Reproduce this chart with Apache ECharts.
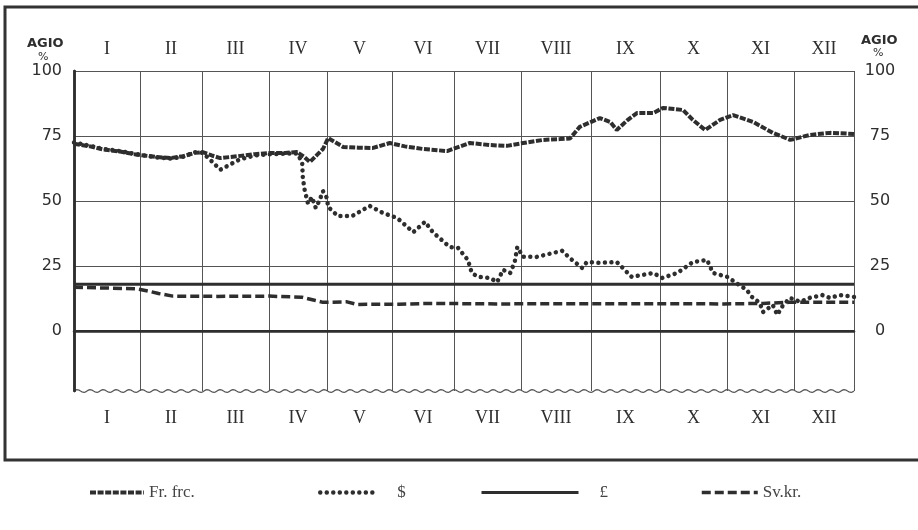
<!DOCTYPE html>
<html><head><meta charset="utf-8">
<script src="https://cdn.jsdelivr.net/npm/echarts@6/dist/echarts.min.js"></script>
<style>html,body{margin:0;padding:0;background:#fff}#c{width:918px;height:530px}</style>
</head><body><div id="c"></div>
<script>
// ---- data ----
const months = ['I','II','III','IV','V','VI','VII','VIII','IX','X','XI','XII'];
// month boundaries as drawn (in month units, 0..12)
const monthEdges = [0, 1.015, 1.969, 3.0, 3.892, 4.892, 5.846, 6.877, 7.954, 9.015, 10.046, 11.077, 12];
const yTicks = [0, 25, 50, 75, 100];
const seriesNames = ['Fr. frc.', '$', '£', 'Sv.kr.'];

const franc = [[0,72],[0.25,71],[0.45,69.8],[0.71,69],[0.97,67.8],[1.25,67],[1.48,66.5],[1.68,67.2],[1.86,68.5],[1.98,68.8],[2.12,67.5],[2.25,66.5],[2.51,67.2],[2.78,68],[3.02,68.5],[3.25,68.5],[3.43,68.8],[3.54,67],[3.63,65],[3.75,68],[3.83,70],[3.91,74.2],[4.14,70.8],[4.37,70.5],[4.6,70.4],[4.86,72.3],[5.09,71],[5.37,70],[5.74,69.2],[6.09,72.3],[6.4,71.5],[6.66,71.2],[6.91,72.3],[7.22,73.5],[7.48,73.8],[7.63,74],[7.78,78.5],[8.09,81.9],[8.25,80.4],[8.35,77.3],[8.51,81],[8.66,83.8],[8.91,83.8],[9.06,85.8],[9.37,85],[9.52,81.2],[9.71,77.3],[9.94,81.2],[10.14,83],[10.45,80.4],[10.75,76.2],[11.02,73.5],[11.32,75.4],[11.63,76.2],[12,75.8]];

const dollar = [[0,72.5],[0.25,71.2],[0.45,70],[0.71,69.2],[0.97,68],[1.25,66.8],[1.48,66.3],[1.68,67],[1.86,68.8],[1.98,68.5],[2.09,66],[2.17,64],[2.25,62],[2.4,64],[2.55,66],[2.78,67.5],[3.02,68],[3.25,68.2],[3.43,68.3],[3.51,65],[3.52,59],[3.55,54],[3.6,49],[3.66,51.5],[3.72,47.3],[3.78,50.4],[3.83,53.8],[3.89,51.2],[3.91,47.7],[4.06,44.2],[4.28,44.2],[4.55,48.1],[4.75,45.4],[4.97,43.5],[5.22,38],[5.4,42],[5.52,38],[5.78,32.3],[5.91,31.9],[6.06,27.3],[6.12,22.3],[6.22,20.8],[6.4,20.4],[6.51,18.8],[6.6,23.5],[6.71,22.3],[6.78,26.5],[6.82,32.3],[6.91,28.5],[7.12,28.5],[7.37,30],[7.51,30.8],[7.63,28],[7.82,24.2],[7.89,26.5],[8.09,26.2],[8.35,26.5],[8.58,20.8],[8.91,22.3],[9.05,20.4],[9.28,22.3],[9.52,26.5],[9.74,27.3],[9.83,22.3],[10.05,20.8],[10.17,18.8],[10.35,15.8],[10.43,13.1],[10.55,10.8],[10.6,7.3],[10.75,10],[10.82,6.2],[10.91,10],[11.02,12.7],[11.17,11.2],[11.32,12.7],[11.51,13.8],[11.63,12.7],[11.78,13.8],[12,13.1]];

const pound = [[0,18],[12,18]];

const krona = [[0,16.8],[0.5,16.5],[0.97,16.2],[1.15,15.3],[1.3,14.4],[1.52,13.4],[2.2,13.3],[3.0,13.4],[3.5,13.0],[3.7,11.8],[3.83,11.0],[4.2,11.2],[4.35,10.2],[5.0,10.3],[5.5,10.6],[6.5,10.4],[8,10.5],[9,10.5],[10,10.4],[10.6,10.6],[11,11],[12,11]];

// ---- chart ----
const centers = months.map((m, i) => (monthEdges[i] + monthEdges[i + 1]) / 2);
const monthLabel = v => { const i = centers.findIndex(c => Math.abs(c - v) < 1e-6); return i >= 0 ? months[i] : ''; };
const ink = '#2e2e2e';
const serif = '"Liberation Serif", "DejaVu Serif", serif';
const sans = '"DejaVu Sans", sans-serif';

const chart = echarts.init(document.getElementById('c'), null, { renderer: 'canvas' });
const grid = { left: 74, right: 64, top: 71, bottom: 139 };

const xBase = {
  type: 'value', min: 0, max: 12, gridIndex: 0,
  axisTick: { show: false, customValues: monthEdges },
  axisLabel: { customValues: centers, formatter: monthLabel, color: ink, fontFamily: serif, fontSize: 18 }
};
const yBase = {
  type: 'value', min: -23.1, max: 100,
  axisTick: { show: false, customValues: yTicks },
  axisLabel: { customValues: yTicks, color: ink, fontFamily: sans, fontSize: 16 },
  axisLine: { show: true, lineStyle: { color: ink, width: 2.5 } }
};

const styles = {
  franc: { color: ink, width: 4, type: [6, 1.6] },
  dollar: { color: ink, width: 4.5, type: [0.01, 6.5], cap: 'round' },
  pound: { color: ink, width: 3 },
  krona: { color: ink, width: 3.5, type: [9, 4] }
};

const legendBase = { orient: 'horizontal', top: 484, padding: 0, itemHeight: 10, selectedMode: false,
  itemStyle: { opacity: 0 } };
const legendText = pad => ({ fontFamily: serif, fontSize: 17, color: '#444', padding: [0, 0, 0, pad] });

chart.setOption({
  animation: false,
  backgroundColor: '#fff',
  grid: grid,
  xAxis: [
    Object.assign({}, xBase, {
      position: 'bottom',
      axisLine: { show: false },
      splitLine: { show: true, lineStyle: { color: '#555', width: 1 } },
      axisLabel: Object.assign({}, xBase.axisLabel, { margin: 18 })
    }),
    Object.assign({}, xBase, {
      position: 'top',
      axisLine: { show: true, lineStyle: { color: ink, width: 2.5 } },
      splitLine: { show: false },
      axisLabel: Object.assign({}, xBase.axisLabel, { margin: 13 })
    })
  ],
  yAxis: [
    Object.assign({}, yBase, {
      position: 'left',
      splitLine: { show: true, lineStyle: { color: '#555', width: 1 } },
      axisLabel: Object.assign({}, yBase.axisLabel, { margin: 12 })
    }),
    Object.assign({}, yBase, {
      position: 'right',
      splitLine: { show: false },
      axisLabel: Object.assign({}, yBase.axisLabel, { margin: 26, align: 'center' })
    })
  ],
  legend: [
    Object.assign({}, legendBase, { left: 88, itemWidth: 54, lineStyle: { width: 4 }, textStyle: legendText(0), data: [seriesNames[0]] }),
    Object.assign({}, legendBase, { left: 318, itemWidth: 58, lineStyle: { width: 4.5 }, textStyle: legendText(14), data: [seriesNames[1]] }),
    Object.assign({}, legendBase, { left: 480, itemWidth: 97, lineStyle: { width: 3 }, textStyle: legendText(16), data: [seriesNames[2]] }),
    Object.assign({}, legendBase, { left: 700, itemWidth: 56, lineStyle: { width: 3.5 }, textStyle: legendText(0), data: [seriesNames[3]] })
  ],
  series: [
    { name: seriesNames[2], type: 'line', data: pound, symbol: 'none', z: 3,
      lineStyle: styles.pound, itemStyle: { color: ink },
      markLine: { silent: true, symbol: 'none', label: { show: false },
        lineStyle: { color: ink, width: 2, type: 'solid' }, data: [{ yAxis: 0 }] } },
    { name: seriesNames[3], type: 'line', data: krona, symbol: 'none', z: 3,
      lineStyle: styles.krona, itemStyle: { color: ink } },
    { name: seriesNames[0], type: 'line', data: franc, symbol: 'none', z: 4,
      lineStyle: styles.franc, itemStyle: { color: ink } },
    { name: seriesNames[1], type: 'line', data: dollar, symbol: 'none', z: 5,
      lineStyle: styles.dollar, itemStyle: { color: ink } }
  ]
});

// decorative frame, wavy bottom edge and AGIO headings
const x0 = chart.convertToPixel({ xAxisIndex: 0 }, 0);
const x1 = chart.convertToPixel({ xAxisIndex: 0 }, 12);
const yb = chart.convertToPixel({ yAxisIndex: 0 }, -23.1);
const wave = [];
for (let px = x0; px <= x1; px += 1) wave.push([px, yb - 1.3 * Math.sin((px - x0) / 13 * 2 * Math.PI)]);
chart.setOption({
  graphic: [
    { type: 'rect', shape: { x: 5, y: 7, width: 930, height: 453 }, style: { fill: null, stroke: '#333', lineWidth: 3 }, silent: true },
    { type: 'polyline', shape: { points: wave }, style: { stroke: '#555', lineWidth: 1.2, fill: null }, silent: true },
    { type: 'text', left: 27, top: 37, style: { text: 'AGIO', font: 'bold 13px "DejaVu Sans"', fill: ink } },
    { type: 'text', left: 38, top: 52, style: { text: '%', font: '11px "DejaVu Sans"', fill: ink } },
    { type: 'text', left: 861, top: 34, style: { text: 'AGIO', font: 'bold 13px "DejaVu Sans"', fill: ink } },
    { type: 'text', left: 873, top: 48, style: { text: '%', font: '11px "DejaVu Sans"', fill: ink } }
  ]
});
</script>
</body></html>
